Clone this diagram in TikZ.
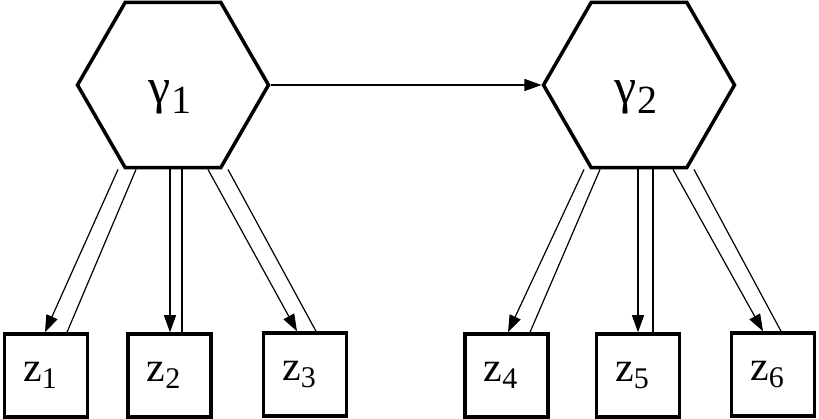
\documentclass[tikz,border=0pt]{standalone}
\usepackage{fontspec}
\setmainfont{Liberation Serif}
\usetikzlibrary{shapes.geometric,arrows.meta}

\newcommand{\gamlab}[1]{{\fontsize{50}{50}\selectfont γ\raisebox{-0.2em}{\fontsize{40}{40}\selectfont #1}}}
\newcommand{\zlab}[1]{{\fontsize{42}{42}\selectfont z\raisebox{-0.17em}{\fontsize{30}{30}\selectfont #1}}}

\begin{document}
\begin{tikzpicture}[x=1pt,y=1pt,yscale=-1,xscale=1,
	hexa/.style={regular polygon,regular polygon sides=6,draw,line width=3.5pt,minimum size=191pt,inner sep=0pt},
	obs/.style={draw,line width=3.5pt,minimum size=83pt,inner sep=0pt},
	load/.style={line width=1.2pt,-{Triangle[length=17pt,width=12pt]}},
	back/.style={line width=1.2pt}]
				\useasboundingbox (0,0) rectangle (819,419);

				%Shape: Hexagon [id:g1]
				\node [hexa] (g1) at (173,85) {};
				%Shape: Hexagon [id:g2]
				\node [hexa] (g2) at (639,85) {};

				%Shape: Square [id:z1..z6]
				\node [obs] (z1) at (46,375.5) {};
				\node [obs] (z2) at (169.5,375.5) {};
				\node [obs] (z3) at (305,374.5) {};
				\node [obs] (z4) at (506.5,375.5) {};
				\node [obs] (z5) at (638,375.5) {};
				\node [obs] (z6) at (773,374.5) {};

				%Straight Lines [id:g1-g2]
				\draw [load] (g1.east) -- (g2.west);

				%Straight Lines [id:g1-z]
				\draw [load] ([xshift=-55]g1.south) -- ([xshift=-1]z1.north);
				\draw [back] ([xshift=-37]g1.south) -- ([xshift=21]z1.north);
				\draw [load] ([xshift=-3]g1.south) -- ([xshift=0.5]z2.north);
				\draw [back] ([xshift=9]g1.south) -- ([xshift=12.5]z2.north);
				\draw [load] ([xshift=35]g1.south) -- ([xshift=-8]z3.north);
				\draw [back] ([xshift=55]g1.south) -- ([xshift=11]z3.north);

				%Straight Lines [id:g2-z]
				\draw [load] ([xshift=-55]g2.south) -- ([xshift=1.5]z4.north);
				\draw [back] ([xshift=-39]g2.south) -- ([xshift=23.5]z4.north);
				\draw [load] ([xshift=-1]g2.south) -- ([xshift=0]z5.north);
				\draw [back] ([xshift=14]g2.south) -- ([xshift=15]z5.north);
				\draw [load] ([xshift=34]g2.south) -- ([xshift=-10]z6.north);
				\draw [back] ([xshift=55]g2.south) -- ([xshift=8]z6.north);

				% Text Node
				\node at ([xshift=-3,yshift=12]g1.center) {\gamlab{1}};
				% Text Node
				\node at ([xshift=-3,yshift=12]g2.center) {\gamlab{2}};
				% Text Node
				\node at ([xshift=-6]z1.center) {\zlab{1}};
				\node at ([xshift=-6]z2.center) {\zlab{2}};
				\node at ([xshift=-6]z3.center) {\zlab{3}};
				\node at ([xshift=-6]z4.center) {\zlab{4}};
				\node at ([xshift=-6]z5.center) {\zlab{5}};
				\node at ([xshift=-6]z6.center) {\zlab{6}};

\end{tikzpicture}
\end{document}
